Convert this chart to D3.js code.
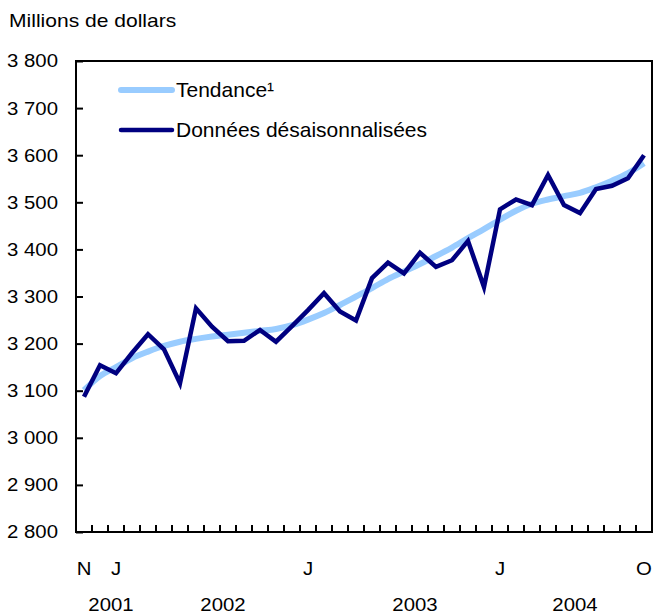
<!DOCTYPE html>
<html>
<head>
<meta charset="utf-8">
<script src="https://cdn.jsdelivr.net/npm/d3@7/dist/d3.min.js"></script>
<style>
  html, body { margin: 0; padding: 0; background: #fff; }
  text { font-family: "Liberation Sans", Arial, Helvetica, sans-serif; fill: #000; }
</style>
</head>
<body>
<svg id="chart" width="655" height="615"></svg>
<script>
const months = ["2001-11","2001-12",
  "2002-01","2002-02","2002-03","2002-04","2002-05","2002-06","2002-07","2002-08","2002-09","2002-10","2002-11","2002-12",
  "2003-01","2003-02","2003-03","2003-04","2003-05","2003-06","2003-07","2003-08","2003-09","2003-10","2003-11","2003-12",
  "2004-01","2004-02","2004-03","2004-04","2004-05","2004-06","2004-07","2004-08","2004-09","2004-10"];

const seasonallyAdjusted = [3087,3154,3137,3180,3220,3188,3116,3275,3236,3205,
  3206,3229,3204,3237,3271,3307,3268,3249,3339,3372,
  3349,3393,3363,3377,3418,3320,3485,3506,3494,3558,
  3494,3477,3528,3535,3551,3600];

const trend = [3101,3131,3150,3169,3183,3195,3204,3210,3215,3219,
  3223,3227,3231,3239,3251,3265,3282,3300,3318,3337,
  3353,3369,3386,3404,3424,3443,3463,3482,3497,3506,
  3513,3520,3532,3546,3562,3583];

const yTicks = [2800,2900,3000,3100,3200,3300,3400,3500,3600,3700,3800];
const monthLabelKeys = ["2001-11","2002-01","2003-01","2004-01","2004-10"];
const monthLabelText = ["N","J","J","J","O"];
const yearLabelKeys = ["2001-12","2002-07","2003-07","2004-05"];
const yearLabelText = ["2001","2002","2003","2004"];
const seriesNames = ["Tendance\u00B9","Données désaisonnalisées"];
const yTitle = "Millions de dollars";

(function () {
const svg = d3.select("#chart");
const mLeft = 76, mRight = 652, mTop = 61, mBottom = 532;

const x = d3.scaleBand().domain(months).range([mLeft, mRight]).padding(0);
const y = d3.scaleLinear().domain([2800, 3800]).range([mBottom, mTop]);
const cx = k => x(k) + x.bandwidth() / 2;
const fmt = v => d3.format(",")(v).replace(",", " ");
const place = (px, py, sx) => `translate(${px},${py}) scale(${sx},1)`;

// y title
svg.append("text").attr("transform", place(9, 27, 1.17)).attr("font-size", 18).text(yTitle);

// y axis
const yAxis = svg.append("g").attr("transform", `translate(${mLeft},0)`)
  .call(d3.axisRight(y).tickValues(yTicks).tickSize(7).tickFormat(""));
yAxis.select(".domain").remove();
yAxis.selectAll("line").attr("stroke", "#000").attr("stroke-width", 2);
svg.append("g").selectAll("text").data(yTicks).join("text")
  .attr("transform", d => place(58, y(d), 1.1)).attr("dy", "0.35em")
  .attr("text-anchor", "end").attr("font-size", 18.5).text(fmt);

// x axis ticks at band boundaries
const xAxis = svg.append("g").attr("transform", `translate(0,${mBottom})`)
  .call(d3.axisTop(x).tickSize(7).tickFormat("").offset(0));
xAxis.select(".domain").remove();
xAxis.selectAll(".tick").attr("transform", d => `translate(${x(d) + x.bandwidth()},0)`);
xAxis.selectAll("line").attr("stroke", "#000").attr("stroke-width", 2);

// month labels
svg.append("g").selectAll("text").data(monthLabelKeys).join("text")
  .attr("transform", d => place(cx(d), 575, 1.1)).attr("text-anchor", "middle")
  .attr("font-size", 18.5).text((d, i) => monthLabelText[i]);
// year labels
svg.append("g").selectAll("text").data(yearLabelKeys).join("text")
  .attr("transform", d => place(cx(d) + 11, 611, 1.1)).attr("text-anchor", "middle")
  .attr("font-size", 18.5).text((d, i) => yearLabelText[i]);

// frame
svg.append("rect").attr("x", mLeft).attr("y", mTop).attr("width", mRight - mLeft).attr("height", mBottom - mTop)
  .attr("fill", "none").attr("stroke", "#000").attr("stroke-width", 2);

// lines
svg.append("path").datum(trend)
  .attr("d", d3.line().x((d, i) => cx(months[i])).y(d => y(d)).curve(d3.curveMonotoneX))
  .attr("fill", "none").attr("stroke", "#99ccff").attr("stroke-width", 6);
svg.append("path").datum(seasonallyAdjusted)
  .attr("d", d3.line().x((d, i) => cx(months[i])).y(d => y(d)))
  .attr("fill", "none").attr("stroke", "#000080").attr("stroke-width", 4.5)
  .attr("stroke-linejoin", "miter");

// legend
const legendColors = ["#99ccff", "#000080"];
const legendWidths = [6, 4.5];
const lg = svg.append("g").selectAll("g").data(seriesNames).join("g")
  .attr("transform", (d, i) => `translate(121,${90 + i * 40})`);
lg.append("line").attr("x1", 0).attr("x2", 51).attr("y1", 0).attr("y2", 0)
  .attr("stroke", (d, i) => legendColors[i]).attr("stroke-width", (d, i) => legendWidths[i])
  .attr("stroke-linecap", "round");
lg.append("text").attr("x", 55).attr("y", 0).attr("dy", "0.35em").attr("font-size", 21).text(d => d);
})();
</script>
</body>
</html>
